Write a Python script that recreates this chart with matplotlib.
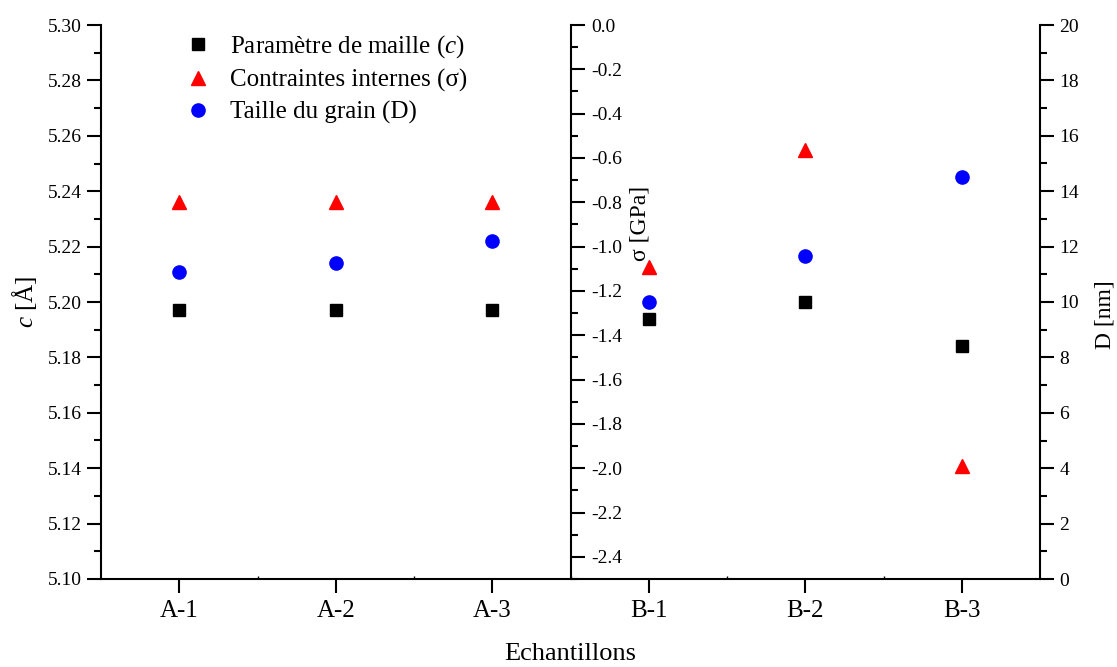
import numpy as np
import matplotlib.pyplot as plt
from matplotlib.lines import Line2D

# samples and measured values
samples = ['A-1', 'A-2', 'A-3', 'B-1', 'B-2', 'B-3']
lattice_c = [5.197, 5.197, 5.197, 5.194, 5.200, 5.184]      # Angstrom
stress = [-0.80, -0.80, -0.80, -1.09, -0.564, -1.99]        # GPa
grain_size = [11.09, 11.40, 12.21, 10.01, 11.66, 14.50]     # nm

plt.rcParams['font.family'] = ['Liberation Serif', 'DejaVu Serif']
plt.rcParams['mathtext.fontset'] = 'custom'
plt.rcParams['mathtext.rm'] = 'Liberation Serif'
plt.rcParams['mathtext.it'] = 'Liberation Serif:italic'
plt.rcParams['axes.unicode_minus'] = False
plt.rcParams['axes.linewidth'] = 1.5

fig = plt.figure(figsize=(11.17, 6.67), dpi=100)
W, H = 1117, 667
ax = fig.add_axes([101 / W, 1 - 579 / H, (1040 - 101) / W, (579 - 25) / H])
x = np.arange(1, len(samples) + 1)

tick_kw = dict(direction='out', width=1.5, labelsize=14)

# left axis: lattice parameter c
ax.plot(x, lattice_c, 's', color='black', markersize=8, linestyle='none')
ax.set_xlim(0.5, 6.5)
ax.set_ylim(5.10, 5.30)
ax.set_yticks(np.arange(5.10, 5.301, 0.02))
ax.set_yticks(np.arange(5.11, 5.30, 0.02), minor=True)
ax.set_yticklabels([f'{v:.2f}' for v in np.arange(5.10, 5.301, 0.02)])
ax.set_xticks(x)
ax.set_xticklabels(samples)
ax.set_xticks(np.arange(1.5, 6.0, 1.0), minor=True)
ax.tick_params(axis='y', which='major', length=10, pad=4, **tick_kw)
ax.tick_params(axis='x', which='major', length=10, pad=5, direction='out', width=1.5, labelsize=18)
ax.tick_params(axis='y', which='minor', length=5, direction='out', width=1.5)
ax.tick_params(axis='x', which='minor', length=2, direction='in', width=1)
ax.spines['top'].set_visible(False)
ax.spines['right'].set_visible(False)
ax.set_ylabel(r'$c$ [Å]', fontsize=18, labelpad=6)
ax.set_xlabel('Echantillons', fontsize=19, labelpad=15)

# middle axis: internal stress
ax2 = ax.twinx()
ax2.plot(x, stress, '^', color='red', markersize=10, linestyle='none')
ax2.set_ylim(-2.5, 0.0)
ax2.set_yticks(np.arange(-2.4, 0.01, 0.2))
ax2.set_yticklabels([f'{v:.1f}' if abs(v) > 1e-9 else '0.0' for v in np.arange(-2.4, 0.01, 0.2)])
ax2.set_yticks(np.arange(-2.5, 0.0, 0.2), minor=True)
ax2.spines['right'].set_position(('data', 3.5))
for s in ['top', 'left', 'bottom']:
    ax2.spines[s].set_visible(False)
ax2.tick_params(axis='y', which='major', length=10, pad=5, **tick_kw)
ax2.tick_params(axis='y', which='minor', length=5, direction='out', width=1.5)
fig.text(640 / W, 1 - 223 / H, 'σ [GPa]', rotation=90, ha='center', va='center', fontsize=17)

# right axis: grain size
ax3 = ax.twinx()
ax3.plot(x, grain_size, 'o', color='blue', markersize=9.5, linestyle='none')
ax3.set_ylim(0, 20)
ax3.set_yticks(np.arange(0, 21, 2))
ax3.set_yticks(np.arange(1, 20, 2), minor=True)
for s in ['top', 'left', 'bottom']:
    ax3.spines[s].set_visible(False)
ax3.tick_params(axis='y', which='major', length=10, pad=4, **tick_kw)
ax3.tick_params(axis='y', which='minor', length=5, direction='out', width=1.5)
fig.text(1105 / W, 1 - 315 / H, 'D [nm]', rotation=90, ha='center', va='center', fontsize=17)

handles = [
    Line2D([], [], marker='s', color='black', linestyle='none', markersize=8),
    Line2D([], [], marker='^', color='red', linestyle='none', markersize=10),
    Line2D([], [], marker='o', color='blue', linestyle='none', markersize=9.5),
]
labels = [r'Paramètre de maille ($c$)', 'Contraintes internes (σ)', 'Taille du grain (D)']
ax3.legend(handles, labels, loc='upper left', bbox_to_anchor=(0.059, 1.025), frameon=False,
           fontsize=18, handletextpad=0.55, labelspacing=0.34, handlelength=1.5)

fig.savefig('out.png', dpi=100)
